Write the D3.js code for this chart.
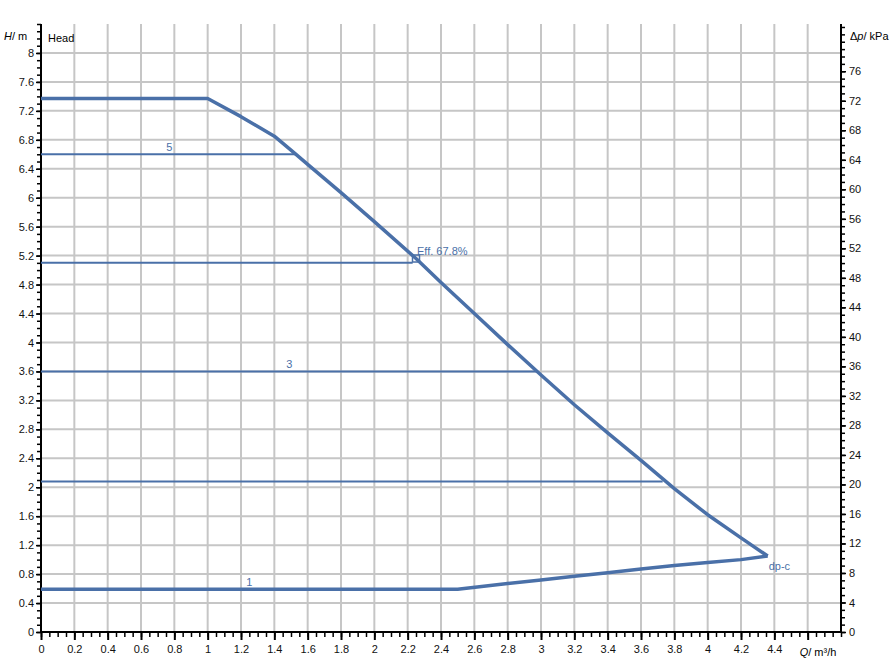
<!DOCTYPE html>
<html>
<head>
<meta charset="utf-8">
<script src="https://cdn.jsdelivr.net/npm/d3@7/dist/d3.min.js"></script>
<style>
  html, body { margin: 0; padding: 0; background: #fff; }
  svg { display: block; font-family: "Liberation Sans", Arial, sans-serif; }
</style>
</head>
<body>
<svg id="chart" width="895" height="662"></svg>
<script>
// ---------- data ----------
// Maximum curve (upper envelope), Q in m³/h, H in m
const maxQ = [0, 1.0, 1.2, 1.4, 1.53, 1.6, 1.8, 2.0, 2.25, 2.4, 2.6, 2.8, 3.0, 3.2, 3.4, 3.6, 3.8, 4.0, 4.2, 4.36];
const maxH = [7.37, 7.37, 7.12, 6.85, 6.60, 6.46, 6.07, 5.67, 5.16, 4.83, 4.40, 3.97, 3.55, 3.14, 2.75, 2.37, 1.98, 1.62, 1.30, 1.05];
// Minimum curve (lower envelope), from dp-c end back to Q = 0
const minQ = [4.36, 4.2, 4.0, 3.8, 3.6, 3.4, 3.2, 3.0, 2.8, 2.5, 0];
const minH = [1.05, 1.00, 0.96, 0.92, 0.87, 0.82, 0.77, 0.72, 0.67, 0.59, 0.59];
// Constant-pressure setting lines (head level, end flow)
const setH = [6.60, 5.10, 3.60, 2.08];
const setQEnd = [1.53, 2.23, 2.98, 3.73];
// Setting line labels
const setLabels = ["5", "3", "1"];
const setLabelQ = [0.77, 1.49, 1.25];
const setLabelH = [6.60, 3.60, 0.59];
// Efficiency point
const effQ = 2.25, effH = 5.16, effText = "Eff. 67.8%";
const endLabel = "dp-c";
// Ticks
const xMajor = d3.range(0, 4.61, 0.2).map(v => +v.toFixed(2));
const xMinor = d3.range(0, 4.801, 0.05).map(v => +v.toFixed(2));
const yMajor = d3.range(0, 8.01, 0.4).map(v => +v.toFixed(2));
const yMinor = d3.range(0, 8.401, 0.1).map(v => +v.toFixed(2));
const pMajor = d3.range(0, 77, 4);
const pMinor = d3.range(0, 83, 1);
const kPaPerM = 9.81;

// ---------- layout ----------
const svg = d3.select("#chart");
const L = 41, R = 841, T = 24, B = 632;
const x = d3.scaleLinear().domain([0, 4.8]).range([L, R]);
const y = d3.scaleLinear().domain([0, 8.4]).range([B, T]);
const yP = d3.scaleLinear().domain([0, 8.4 * kPaPerM]).range([B, T]);
const blue = "#4a70a8";
const fmt = v => (Math.round(v * 10) / 10).toString();

// grid
const grid = svg.append("g").attr("stroke", "#c6c6c6").attr("stroke-width", 2);
grid.selectAll("line.v").data(xMajor.filter(v => v > 0)).join("line")
  .attr("x1", d => x(d)).attr("x2", d => x(d)).attr("y1", T).attr("y2", B);
grid.selectAll("line.h").data(yMajor.filter(v => v > 0)).join("line")
  .attr("x1", L).attr("x2", R).attr("y1", d => y(d)).attr("y2", d => y(d));

// axes
function styleAxis(g, width) {
  g.select(".domain").remove();
  g.selectAll(".tick line").attr("stroke", "#000").attr("stroke-width", width);
  g.selectAll(".tick text").attr("fill", "#111").style("font-size", "11px")
    .style("font-family", "'Liberation Sans', Arial, sans-serif");
}
// minor ticks
svg.append("g").attr("transform", `translate(0,${B})`)
  .call(d3.axisBottom(x).tickValues(xMinor).tickSize(5).tickFormat(""))
  .call(g => styleAxis(g, 1.5));
svg.append("g").attr("transform", `translate(${L},0)`)
  .call(d3.axisLeft(y).tickValues(yMinor).tickSize(4).tickFormat(""))
  .call(g => styleAxis(g, 1.5));
svg.append("g").attr("transform", `translate(${R},0)`)
  .call(d3.axisRight(yP).tickValues(pMinor).tickSize(4).tickFormat(""))
  .call(g => styleAxis(g, 1.5));
// major ticks
svg.append("g").attr("transform", `translate(0,${B})`)
  .call(d3.axisBottom(x).tickValues(xMajor).tickSize(8).tickPadding(5)
    .tickFormat(d => d > 4.5 ? "" : fmt(d)))
  .call(g => styleAxis(g, 2));
svg.append("g").attr("transform", `translate(${L},0)`)
  .call(d3.axisLeft(y).tickValues(yMajor).tickSize(5).tickPadding(2).tickFormat(fmt))
  .call(g => styleAxis(g, 1.5));
svg.append("g").attr("transform", `translate(${R},0)`)
  .call(d3.axisRight(yP).tickValues(pMajor).tickSize(5).tickPadding(3).tickFormat(d => d))
  .call(g => styleAxis(g, 1.5));

// axis lines
const ax = svg.append("g").attr("stroke", "#000").attr("stroke-width", 2);
ax.append("line").attr("x1", L).attr("x2", L).attr("y1", T).attr("y2", B + 1);
ax.append("line").attr("x1", R).attr("x2", R).attr("y1", T).attr("y2", B + 1);
ax.append("line").attr("x1", L - 1).attr("x2", R + 1).attr("y1", B).attr("y2", B);

// axis titles
const t1 = svg.append("text").attr("x", 4).attr("y", 40).style("font-size", "11px");
t1.append("tspan").style("font-style", "italic").text("H");
t1.append("tspan").text("/ m");
const t2 = svg.append("text").attr("x", 850).attr("y", 40).style("font-size", "11px");
t2.append("tspan").text("\u0394");
t2.append("tspan").style("font-style", "italic").text("p");
t2.append("tspan").text("/ kPa");
const t3 = svg.append("text").attr("x", 818).attr("y", 656).attr("text-anchor", "middle").style("font-size", "11px");
t3.append("tspan").style("font-style", "italic").text("Q");
t3.append("tspan").text("/ m\u00b3/h");
svg.append("text").attr("x", 48).attr("y", 42).style("font-size", "11px").text("Head");

// setting lines
svg.append("g").selectAll("line").data(setH).join("line")
  .attr("x1", x(0)).attr("x2", (d, i) => x(setQEnd[i]))
  .attr("y1", d => y(d)).attr("y2", d => y(d))
  .attr("stroke", blue).attr("stroke-width", 2);

// curves
const line = d3.line().x(d => x(d[0])).y(d => y(d[1]));
svg.append("path").datum(maxQ.map((q, i) => [q, maxH[i]]))
  .attr("d", line).attr("fill", "none").attr("stroke", blue).attr("stroke-width", 3.5)
  .attr("stroke-linejoin", "round");
svg.append("path").datum(minQ.map((q, i) => [q, minH[i]]))
  .attr("d", line).attr("fill", "none").attr("stroke", blue).attr("stroke-width", 3.5)
  .attr("stroke-linejoin", "round");

// labels
svg.append("g").selectAll("text").data(setLabels).join("text")
  .attr("x", (d, i) => x(setLabelQ[i])).attr("y", (d, i) => y(setLabelH[i]) - 3)
  .attr("text-anchor", "middle").attr("fill", blue).style("font-size", "11px").text(d => d);

// efficiency point
svg.append("rect").attr("x", x(effQ) - 3.5).attr("y", y(effH) - 3.5)
  .attr("width", 7).attr("height", 7).attr("fill", "none").attr("stroke", blue).attr("stroke-width", 1.5);
svg.append("text").attr("x", x(effQ) + 1).attr("y", y(effH) - 4)
  .attr("fill", blue).style("font-size", "11px").text(effText);
svg.append("text").attr("x", x(maxQ[maxQ.length - 1]) + 1).attr("y", y(maxH[maxH.length - 1]) + 14)
  .attr("fill", blue).style("font-size", "11px").text(endLabel);
</script>
</body>
</html>
